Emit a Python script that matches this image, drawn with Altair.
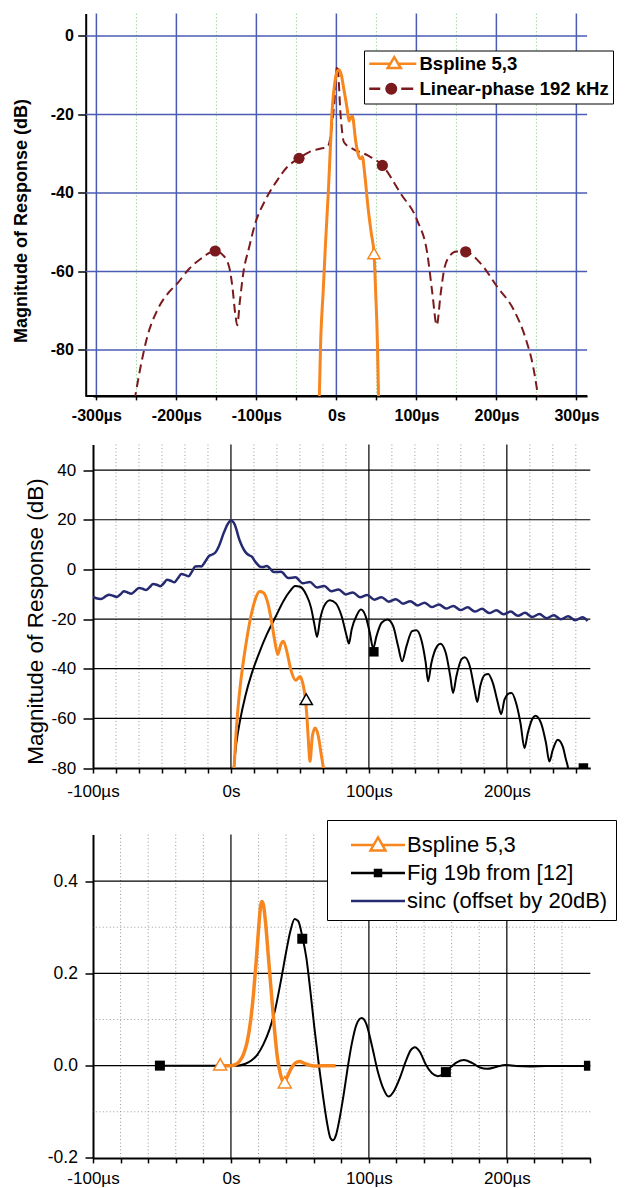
import math
import altair as alt
import pandas as pd

FONT = "Liberation Sans"
ORANGE = "#F7861E"
DARKRED = "#7A1A1C"
NAVY = "#262A70"
GRIDBLUE = "#4A5CB4"
GRIDGREEN = "#9CD89A"
DOTGRAY = "#9A9A9A"

# ---------------- Panel 1 data ----------------
P1_LIN_X = [-252.5, -244, -236.5, -224, -209, -199, -184, -169, -159, -151.5, -141.5, -134, -130, -126.5,
            -124, -120.5, -116.5, -109, -101.5, -89, -74, -61.5, -47, -34, -19, -11, -3, 1.2, 5.4, 9.5, 20,
            38.7, 57.5, 80.4, 101, 113.7, 120, 125.4, 130.4, 134.5, 140.8, 150, 161.6, 180.4, 201, 222,
            236.6, 246, 253]
P1_LIN_Y = [-93, -83.5, -76.7, -69.9, -65.2, -63.1, -59.3, -56.7, -55.3, -54.8, -55.9, -58.9, -63.9, -70.7,
            -73.7, -67.3, -60.6, -53.8, -47.8, -41.9, -36.8, -33.4, -31.2, -29.6, -28.7, -28.3, -18, -7.5,
            -20.6, -27.1, -28.7, -30.4, -33, -40.2, -47, -55.5, -65.6, -73.7, -65.6, -59.7, -56.3, -54.9,
            -55, -58, -63.9, -69.9, -77.1, -84.3, -93]
P1_LIN_MK_X = [-151.5, -46.7, 57.5, 161.6]
P1_LIN_MK_Y = [-54.8, -31.2, -33.0, -55.0]

P1_BS_X = [-21.5, -19.6, -16.5, -13.4, -10.0, -7.1, -5.0, -2.1, 0.5, 3.3, 6.0, 9.5, 13.7, 15.7, 18.0, 20.0,
           24.0, 27.0, 29.7, 32.5, 35.3, 39.5, 43.7, 47.0, 49.0, 51.2, 52.8]
P1_BS_Y = [-93, -77.5, -65.0, -52.1, -39.4, -26.6, -18.1, -12.1, -9.3, -8.6, -9.8, -13.8, -18.9, -21.7,
           -20.8, -20.5, -26.6, -30.0, -31.3, -30.8, -35.0, -43.6, -50.4, -55.4, -64.7, -77.5, -93]
P1_BS_MK_X = [47.0]
P1_BS_MK_Y = [-55.4]

P1_XTICKS = [-300, -250, -200, -150, -100, -50, 0, 50, 100, 150, 200, 250, 300]
P1_MAJOR_X = [-300, -200, -100, 0, 100, 200, 300]
P1_MINOR_X = [-250, -150, -50, 50, 150, 250]
P1_YTICKS = [0, -20, -40, -60, -80]
P1_XSPAN = [-313.4, 313.4]          # full time span of panel 1 (y axis sits at the left end)
P1_YBOTTOM = [-91.7]
LEG1_LABELS = ["Bspline 5,3", "Linear-phase 192 kHz"]

# ---------------- Panel 2 data ----------------
P2_SINC_X = [-100, -97.7, -94.2, -90.7, -88.4, -85.5, -82.6, -80.0, -77.6, -75.0, -72.4, -69.5, -66.6, -64.0,
             -61.6, -59.0, -56.4, -53.8, -51.2, -48.7, -46.2, -43.6, -41.0, -38.5, -36.0, -33.4, -30.8, -28.3,
             -25.9, -23.7, -21.5, -18.6, -15.7, -13.5, -11.3, -9.0, -7.0, -5.5, -4.1, -2.8, -1.5, 0,
             1.5, 2.8, 4.2, 5.6, 7.5, 9.5, 11.6, 13.5, 15.2, 17.0, 18.8, 21.2, 23.6, 26.0, 31.2, 36.4, 41.6,
             46.8, 52.0, 57.2, 62.4, 67.6, 72.8, 78.0, 83.2, 88.4, 93.6, 98.8, 104.0, 109.2, 114.4, 119.6,
             124.8, 130.0, 135.2, 140.4, 145.6, 150.8, 156.0, 161.2, 166.4, 171.6, 176.8, 182.0, 187.2,
             192.4, 197.6, 202.8, 208.0, 213.2, 218.4, 223.6, 228.8, 234.0, 239.2, 244.4, 249.6, 254.8, 258.5]
P2_SINC_Y = [-10.9, -11.6, -11.9, -10.8, -10.2, -10.6, -11.1, -10.0, -8.8, -9.3, -9.8, -8.7, -7.5, -7.8,
             -8.3, -7.2, -5.9, -6.2, -6.8, -5.6, -4.2, -4.6, -5.2, -3.6, -1.9, -2.2, -2.8, -0.9,
             1.2, 1.3, 1.2, 3.2, 5.5, 6.0, 6.8, 9.0, 11.9, 14.3, 16.2, 17.8, 19.0, 19.8,
             19.2, 18.0, 15.6, 12.8, 10.0, 7.8, 6.3, 5.6, 5.1, 3.6, 2.3, 1.1, 1.0, 1.4, -1.1, -1.0, -3.5,
             -3.2, -5.6, -5.1, -7.3, -6.7, -8.8, -8.1, -10.1, -9.3, -11.2, -10.3, -12.2, -11.2, -13.0, -12.0,
             -13.8, -12.8, -14.5, -13.4, -15.2, -14.1, -15.8, -14.7, -16.4, -15.3, -17.0, -15.9, -17.6,
             -16.5, -18.1, -17.0, -18.7, -17.5, -19.2, -18.0, -19.7, -18.5, -20.1, -18.9, -20.5, -19.3, -20.8]

P2_FIG_X = [1.5, 3.9, 6.7, 10.4, 15.2, 20.0, 26.0, 32.0, 38.0, 42.9, 46.5, 50.1, 54.5, 58.1, 60.5, 62.4, 64.6,
            67.5, 71.8, 76.1, 80.2, 83.9, 85.5, 87.5, 91.1, 94.2, 97.6, 100.7, 103.1, 105.5, 109.2, 113.5,
            117.6, 121.2, 124.1, 127.2, 131.3, 134.5, 138.0, 141.2, 142.9, 145.3, 149.4, 151.8, 155.7, 159.0,
            161.0, 163.4, 167.0, 169.4, 173.5, 176.6, 178.6, 180.7, 184.3, 186.5, 189.9, 193.5, 195.9, 198.3,
            201.9, 203.5, 206.7, 209.9, 212.8, 215.2, 218.8, 220.7, 224.8, 228.4, 230.8, 233.3, 236.9, 240.5,
            242.9, 244.3, 246.5]
P2_FIG_Y = [-83, -70.0, -60.6, -51.1, -41.7, -34.3, -26.2, -19.5, -12.8, -8.7, -6.7, -7.0, -10.1, -15.5, -22.2,
            -27.2, -20.2, -14.8, -12.4, -13.7, -18.8, -26.9, -29.9, -24.2, -18.6, -16.2, -18.8, -25.6, -31.8,
            -26.9, -21.5, -20.2, -22.9, -31.0, -37.0, -31.0, -24.9, -24.5, -28.3, -37.7, -45.1, -37.7, -31.0,
            -30.0, -33.6, -43.1, -49.8, -43.1, -36.3, -35.4, -39.7, -48.5, -53.4, -47.1, -42.4, -42.1, -45.8,
            -53.8, -58.3, -52.5, -49.9, -49.8, -53.8, -61.9, -72.0, -65.9, -59.9, -59.0, -61.9, -70.0, -77.4,
            -72.7, -68.6, -71.3, -76.7, -79.7, -87.5]
P2_FIG_MK_X = [103.6, 255.5]
P2_FIG_MK_Y = [-33.2, -80.0]

P2_BS_X = [2.0, 3.4, 4.8, 6.7, 9.2, 11.6, 14.5, 17.6, 20.7, 23.6, 26.7, 29.6, 32.0, 34.0, 36.1, 38.0, 40.5,
           43.4, 47.0, 50.0, 52.3, 53.7, 54.9, 56.1, 57.3, 59.0, 61.0, 63.4, 65.3, 67.0, 68.2]
P2_BS_Y = [-83, -68.6, -57.9, -47.1, -36.3, -27.6, -18.8, -12.1, -8.9, -9.4, -13.5, -21.5, -29.6, -34.3,
           -30.3, -28.9, -33.0, -40.4, -44.7, -43.1, -46.4, -51.1, -57.9, -68.6, -77.4, -67.3, -63.9, -67.3,
           -74.0, -80.0, -85]
P2_BS_MK_X = [54.6]
P2_BS_MK_Y = [-52.3]

P2_XTICKS = [-100, -83.333, -66.667, -50, -33.333, -16.667, 0, 16.667, 33.333, 50, 66.667, 83.333, 100,
             116.667, 133.333, 150, 166.667, 183.333, 200, 216.667, 233.333, 250]
P2_MAJOR_X = [0, 100, 200]
P2_MINOR_X = [-83.333, -66.667, -50, -33.333, -16.667, 16.667, 33.333, 50, 66.667, 83.333, 116.667,
              133.333, 150, 166.667, 183.333, 216.667, 233.333, 250]
P2_YTICKS = [40, 20, 0, -20, -40, -60, -80]
P2_GRID_Y = [40, 20, 0, -20, -40, -60]

# ---------------- Panel 3 data ----------------
P3_FIG_X = [-51.5, -21.5, -4, 4.7, 10.5, 14.8, 19.2, 23.5, 27.9, 32.3, 36.6, 40.1, 43, 46.2, 48.8, 51.7, 54.7,
            57.6, 60.5, 63.7, 66.6, 69.5, 72.1, 73.8, 76.2, 78.8, 81.7, 84.6, 87.5, 91, 94.8, 98.3, 102, 106.4,
            110.8, 114.2, 118, 122.4, 126.7, 130.2, 133.4, 136.9, 141.3, 145.6, 150, 154.4, 158.7, 163.7,
            168.9, 174.7, 180.5, 185.5, 192.2, 198.8, 206.7, 216.9, 228.5, 245.9, 260.5]
P3_FIG_Y = [0, 0, 0, 0.0, 0.004, 0.011, 0.024, 0.046, 0.078, 0.125, 0.19, 0.248, 0.291, 0.318, 0.313, 0.28,
            0.233, 0.161, 0.082, 0.002, -0.063, -0.121, -0.157, -0.162, -0.15, -0.114, -0.063, -0.005, 0.046,
            0.089, 0.103, 0.089, 0.046, -0.012, -0.052, -0.067, -0.056, -0.027, 0.009, 0.033, 0.04, 0.03,
            0.002, -0.016, -0.023, -0.018, -0.005, 0.007, 0.012, 0.006, -0.004, -0.007, -0.003, 0.0015,
            -0.001, -0.002, -0.001, -0.001, 0]
P3_FIG_MK_X = [-51.5, 51.7, 155.8, 259.5]
P3_FIG_MK_Y = [0.0, 0.275, -0.014, 0.0]

P3_BS_X = [-7.8, 0.3, 3.2, 6.1, 9, 11.9, 14.2, 16.3, 18.3, 20.1, 21.5, 22.4, 23.5, 25, 27, 29.4, 31.7, 33.7,
           35.8, 37.5, 39, 41, 43.9, 46.8, 49.7, 53.2, 57, 62.8, 68.6, 75.9]
P3_BS_Y = [0, 0, 0.002, 0.009, 0.024, 0.053, 0.096, 0.154, 0.226, 0.299, 0.346, 0.356, 0.349, 0.313, 0.241,
           0.154, 0.074, 0.017, -0.018, -0.033, -0.035, -0.023, -0.005, 0.006, 0.009, 0.005, 0.001, -0.001,
           0, 0]
P3_BS_MK_X = [-7.8, 39.0]
P3_BS_MK_Y = [0.003, -0.036]

P3_XTICKS = [-100, -80, -60, -40, -20, 0, 20, 40, 60, 80, 100, 120, 140, 160, 180, 200, 220, 240, 260]
P3_MAJOR_X = [0, 100, 200]
P3_MINOR_X = [-80, -60, -40, -20, 20, 40, 60, 80, 120, 140, 160, 180, 220, 240]
P3_YTICKS = [0.4, 0.2, 0.0, -0.2]
P3_GRID_Y = [0.4, 0.2, 0.0]
P3_MINOR_Y = [0.3, 0.1, -0.1]
LEG3_LABELS = ["Bspline 5,3", "Fig 19b from [12]", "sinc (offset by 20dB)"]


# ---------------- legend symbol shapes (unit space) ----------------
def ring(cx, r, n=16):
    pts = [(cx + r * math.cos(2 * math.pi * k / n), r * math.sin(2 * math.pi * k / n)) for k in range(n)]
    return "M" + "L".join(f"{x:.3f},{y:.3f}" for x, y in pts) + "Z"


SYM1_TRI = "M-1.143,0H1.864M2.994,0H5.571M2.428,-0.95L3.364,0.62L1.494,0.62Z"
SYM1_DC = ("M-1.143,0H0.428M3.428,0H5.144" + ring(2.0, 0.679) + ring(2.0, 0.357) + ring(2.0, 0.071, 8))
SYM3_TRI = "M0.625,0H3.455M4.545,0H7.375M4.0,-0.95L4.935,0.675L3.065,0.675Z"
SYM3_SQ = "M0.625,0H7.375M3.625,-0.375H4.375V0.375H3.625ZM3.906,-0.094H4.094V0.094H3.906Z"
SYM3_LINE = "M0.625,0H7.375"


def frame(xs, ys):
    return pd.DataFrame({"x": xs, "y": ys})


def axis_common(size, weight):
    return dict(domainColor="black", domainWidth=2, tickColor="black", tickWidth=1.5,
                labelFont=FONT, labelFontSize=size, labelFontWeight=weight, labelColor="black",
                labelOverlap=False, grid=False)


XLAB = "abs(datum.value % 100) > 0.01 ? '' : (datum.value == 0 ? '0s' : datum.value + 'µs')"


def panel(xs, ys, ax, ay, layers_spec, legend_layer, width, height):
    def X(field="x"):
        return alt.X(f"{field}:Q", scale=xs, axis=ax)

    def Y(field="y"):
        return alt.Y(f"{field}:Q", scale=ys, axis=ay)

    layers = []
    for spec in layers_spec:
        kind, data, style = spec[0], spec[1], spec[2]
        if kind == "vrule":
            layers.append(alt.Chart(pd.DataFrame({"x": data})).mark_rule(**style).encode(x=X()))
        elif kind == "hrule":
            layers.append(alt.Chart(pd.DataFrame({"y": data})).mark_rule(**style).encode(y=Y()))
        elif kind == "hspan":
            span = spec[3]
            layers.append(alt.Chart(pd.DataFrame({"y": data})).mark_rule(**style).encode(
                y=Y(), x=alt.X(datum=span[0], scale=xs, axis=ax), x2=alt.X2(datum=span[1])))
        elif kind == "line":
            layers.append(alt.Chart(data).mark_line(clip=True, interpolate="monotone", **style)
                          .encode(x=X(), y=Y(), order="x:Q"))
        elif kind == "point":
            layers.append(alt.Chart(data).mark_point(clip=True, opacity=1, **style).encode(x=X(), y=Y()))
    if legend_layer is not None:
        layers.append(legend_layer)
    return alt.layer(*layers).properties(width=width, height=height)


# ---------------- Panel 1 ----------------
xs1 = alt.Scale(domain=[-304.25, 313.4], nice=False, zero=False)
ys1 = alt.Scale(domain=[-91.7, 5.7], nice=False, zero=False)
ax1 = alt.Axis(values=P1_XTICKS, labelExpr=XLAB, title=None, tickSize=4, labelPadding=7.2,
               labelFlush=False, **axis_common(16, "bold"))
ay1 = alt.Axis(values=P1_YTICKS, labelExpr="datum.value + ''", title="Magnitude of Response (dB)",
               titleX=-55, titleY=207, titleAngle=270, titleBaseline="bottom", titleAlign="center",
               titleFont=FONT, titleFontSize=18, titleFontWeight="bold", titleColor="black",
               offset=7.3, tickSize=8, labelPadding=4.3, minExtent=30, **axis_common(16, "bold"))
L1 = alt.Legend(title=None, orient="none", legendX=271, legendY=37, direction="vertical",
                fillColor="white", strokeColor="black", padding=4, rowPadding=5,
                symbolSize=196, symbolStrokeWidth=2.5, symbolOpacity=1, labelOffset=33,
                labelFont=FONT, labelFontSize=18.5, labelFontWeight="bold", labelColor="black",
                labelLimit=400)
leg1 = alt.Chart(pd.DataFrame({"s": LEG1_LABELS})).mark_point(opacity=0, filled=False).encode(
    color=alt.Color("s:N", scale=alt.Scale(domain=LEG1_LABELS, range=[ORANGE, DARKRED]), legend=L1),
    shape=alt.Shape("s:N", scale=alt.Scale(domain=LEG1_LABELS, range=[SYM1_TRI, SYM1_DC]), legend=L1),
)
p1 = panel(xs1, ys1, ax1, ay1, [
    ("vrule", P1_MINOR_X, dict(color=GRIDGREEN, strokeWidth=1, strokeDash=[1.5, 2])),
    ("vrule", P1_MAJOR_X, dict(color=GRIDBLUE, strokeWidth=1.5)),
    ("hspan", P1_YTICKS, dict(color=GRIDBLUE, strokeWidth=1.5), P1_XSPAN),
    ("hspan", P1_YBOTTOM, dict(color="black", strokeWidth=2), P1_XSPAN),
    ("line", frame(P1_LIN_X, P1_LIN_Y), dict(color=DARKRED, strokeWidth=2, strokeDash=[9, 5])),
    ("point", frame(P1_LIN_MK_X, P1_LIN_MK_Y), dict(shape="circle", size=125, filled=True, color=DARKRED)),
    ("line", frame(P1_BS_X, P1_BS_Y), dict(color=ORANGE, strokeWidth=3)),
    ("point", frame(P1_BS_MK_X, P1_BS_MK_Y), dict(shape="triangle-up", size=150, fill="white",
                                                  stroke=ORANGE, strokeWidth=1.5)),
], leg1, 494.1, 382.4)

# ---------------- Panel 2 ----------------
xs2 = alt.Scale(domain=[-100, 260.5], nice=False, zero=False)
ys2 = alt.Scale(domain=[-80, 50.3], nice=False, zero=False)
ax2 = alt.Axis(values=P2_XTICKS, labelExpr=XLAB, title=None, tickSize=5, labelPadding=10.9,
               labelFlush=False, **axis_common(17, "normal"))
ay2 = alt.Axis(values=P2_YTICKS, labelExpr="datum.value + ''", title="Magnitude of Response (dB)",
               titleX=-45.6, titleY=176.5, titleAngle=270, titleBaseline="bottom", titleAlign="center",
               titleFont=FONT, titleFontSize=22.5, titleFontWeight="normal", titleColor="black",
               tickSize=10, labelPadding=7.3, minExtent=83.3, **axis_common(17, "normal"))
p2 = panel(xs2, ys2, ax2, ay2, [
    ("vrule", P2_MINOR_X, dict(color=DOTGRAY, strokeWidth=1, strokeDash=[1, 2.5])),
    ("vrule", P2_MAJOR_X, dict(color="black", strokeWidth=1.2)),
    ("hrule", P2_GRID_Y, dict(color="black", strokeWidth=1.2)),
    ("line", frame(P2_SINC_X, P2_SINC_Y), dict(color=NAVY, strokeWidth=2.5)),
    ("line", frame(P2_FIG_X, P2_FIG_Y), dict(color="black", strokeWidth=2)),
    ("point", frame(P2_FIG_MK_X, P2_FIG_MK_Y), dict(shape="square", size=90, filled=True, color="black")),
    ("line", frame(P2_BS_X, P2_BS_Y), dict(color=ORANGE, strokeWidth=3)),
    ("point", frame(P2_BS_MK_X, P2_BS_MK_Y), dict(shape="triangle-up", size=150, fill="white",
                                                  stroke="black", strokeWidth=1.5)),
], None, 497.3, 323.5)

# ---------------- Panel 3 ----------------
xs3 = alt.Scale(domain=[-100, 260.5], nice=False, zero=False)
ys3 = alt.Scale(domain=[-0.2, 0.501], nice=False, zero=False)
ax3 = alt.Axis(values=P3_XTICKS, labelExpr=XLAB, title=None, tickSize=5, labelPadding=7.5,
               labelFlush=False, **axis_common(17, "normal"))
ay3 = alt.Axis(values=P3_YTICKS,
               labelExpr="(datum.value < 0 ? '-' : '') + format(abs(datum.value), '.1f')",
               title=None, tickSize=8, labelPadding=7.6, minExtent=83.3, **axis_common(17.5, "normal"))
L3 = alt.Legend(title=" ", titleFontSize=6, titlePadding=0, orient="none", legendX=234, legendY=-14.5,
                direction="vertical",
                fillColor="white", strokeColor="black", padding=8, rowPadding=6,
                symbolSize=256, symbolStrokeWidth=2.5, symbolOpacity=1, labelOffset=50,
                labelFont=FONT, labelFontSize=22, labelFontWeight="normal", labelColor="black",
                labelLimit=400)
leg3 = alt.Chart(pd.DataFrame({"s": LEG3_LABELS})).mark_point(opacity=0, filled=False).encode(
    color=alt.Color("s:N", scale=alt.Scale(domain=LEG3_LABELS, range=[ORANGE, "black", NAVY]), legend=L3),
    shape=alt.Shape("s:N", scale=alt.Scale(domain=LEG3_LABELS, range=[SYM3_TRI, SYM3_SQ, SYM3_LINE]),
                    legend=L3),
)
p3 = panel(xs3, ys3, ax3, ay3, [
    ("vrule", P3_MINOR_X, dict(color=DOTGRAY, strokeWidth=1, strokeDash=[1, 2.5])),
    ("hrule", P3_MINOR_Y, dict(color=DOTGRAY, strokeWidth=1, strokeDash=[1, 2.5])),
    ("vrule", P3_MAJOR_X, dict(color="black", strokeWidth=1.2)),
    ("hrule", P3_GRID_Y, dict(color="black", strokeWidth=1.2)),
    ("line", frame(P3_FIG_X, P3_FIG_Y), dict(color="black", strokeWidth=2)),
    ("point", frame(P3_FIG_MK_X, P3_FIG_MK_Y), dict(shape="square", size=100, filled=True, color="black")),
    ("line", frame(P3_BS_X, P3_BS_Y), dict(color=ORANGE, strokeWidth=3.5)),
    ("point", frame(P3_BS_MK_X, P3_BS_MK_Y), dict(shape="triangle-up", size=170, fill="white",
                                                  stroke=ORANGE, strokeWidth=1.5)),
], leg3, 497.3, 323.4)

chart = (
    alt.concat(p1, p2, p3, columns=1, align="none", spacing=18)
    .resolve_scale(color="independent", shape="independent")
    .resolve_legend(color="independent", shape="independent")
    .properties(padding={"left": 1, "top": 3.5, "right": 0, "bottom": 2}, background="white")
    .configure_view(stroke="transparent")
)

chart.save("out.html", embed_options={"renderer": "svg", "actions": False})
